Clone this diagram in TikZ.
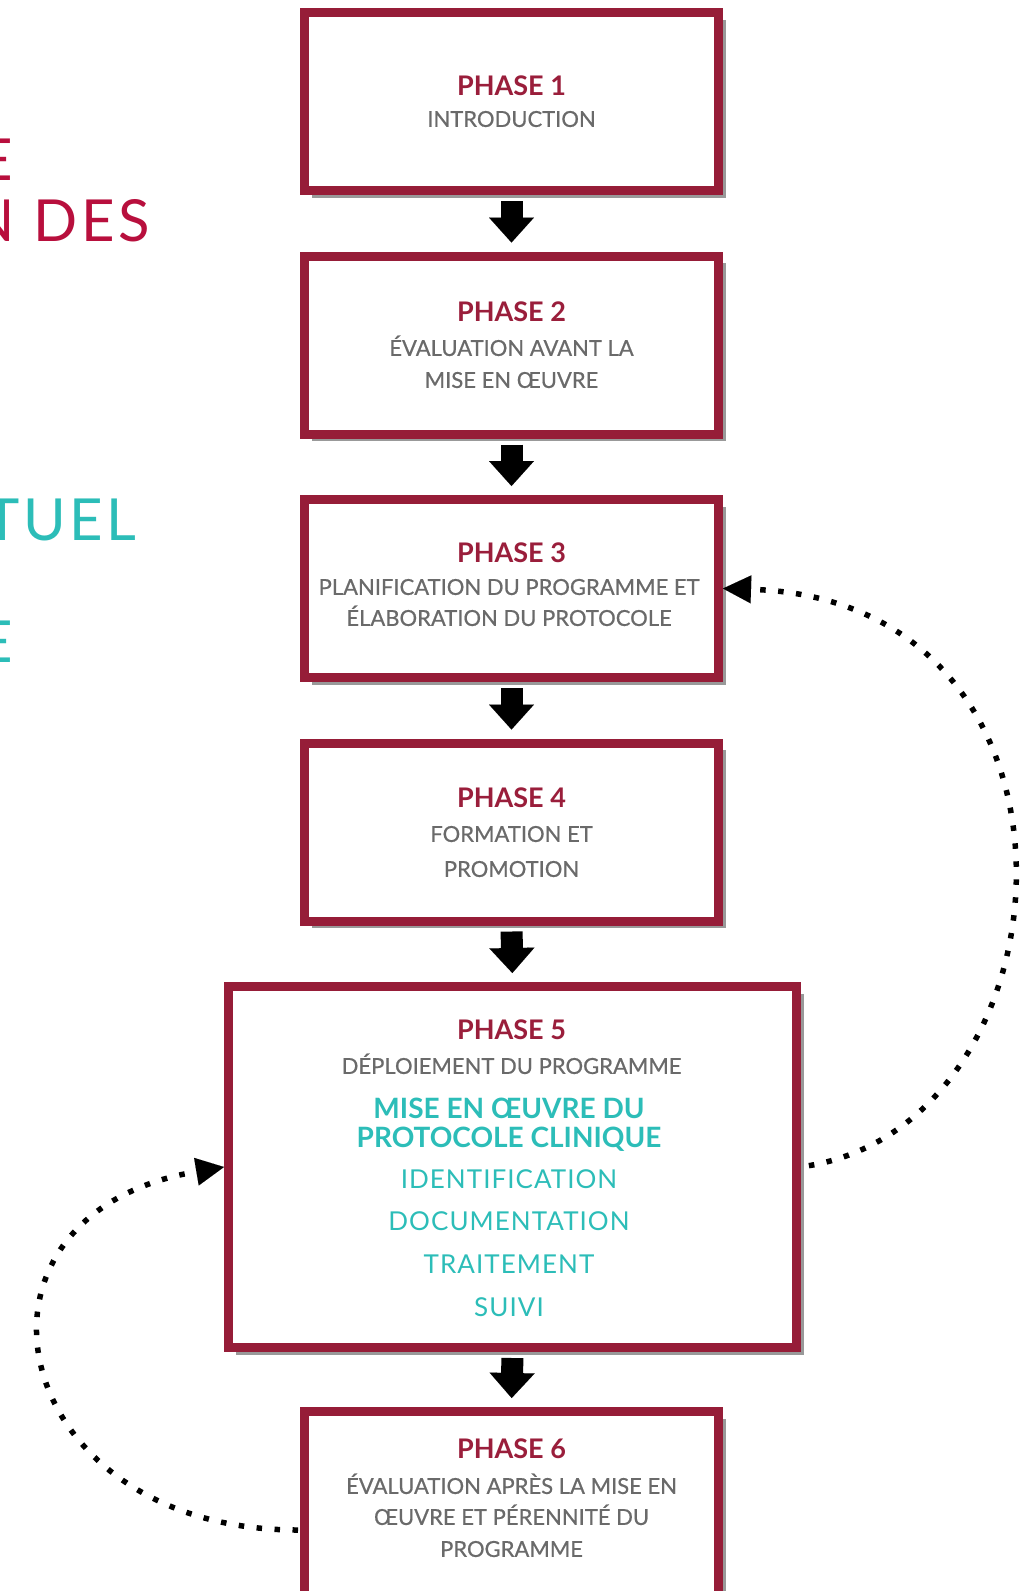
\documentclass[tikz,border=0pt]{standalone}
\usepackage{fontspec}
\setmainfont{Lato}
\newfontfamily\trackfont[LetterSpace=4]{Lato}
\newfontfamily\bigfont[LetterSpace=6]{Lato}
\newfontfamily\subfont[FakeBold=0.6]{Lato}
\usetikzlibrary{arrows.meta,shadows}
\definecolor{boxred}{HTML}{961D38}
\definecolor{phasered}{HTML}{9A1E3B}
\definecolor{leftred}{HTML}{B80F3D}
\definecolor{tealc}{HTML}{2CBDB8}
\definecolor{subgray}{HTML}{6A6A6A}
\begin{document}
\begin{tikzpicture}[x=0.5pt,y=-0.5pt,
  phasebox/.style={draw=boxred, line width=4.5pt, fill=white, inner sep=0pt,
    drop shadow={shadow xshift=3.5pt, shadow yshift=-3.5pt, opacity=0.4, fill=black}},
  ph/.style={font={\fontsize{13.5}{16}\selectfont\bfseries}, text=phasered, text height=9.67pt, text depth=0pt, inner sep=0pt},
  sub/.style={font={\fontsize{11}{13}\selectfont\subfont}, text=subgray, text height=7.9pt, text depth=0pt, inner sep=0pt},
  tb/.style={font={\fontsize{14}{16}\selectfont\bfseries}, text=tealc, text height=10pt, text depth=0pt, inner sep=0pt},
  tr/.style={font={\fontsize{13}{16}\selectfont\trackfont}, text=tealc, text height=9.3pt, text depth=0pt, inner sep=0pt},
  big/.style={font={\fontsize{29}{32}\selectfont\bigfont}, text height=20.8pt, text depth=0pt, inner sep=0pt, anchor=east},
  flowarrow/.style={line width=11pt, -{Triangle[length=12.5pt,width=22.5pt,line width=0.01pt]}, shorten <=3pt, shorten >=4.5pt},
  loopline/.style={line width=2.75pt, dash pattern=on 2.75pt off 6.25pt, -{Triangle[length=14pt,width=14pt,line width=0.01pt]}}
]
\useasboundingbox (0,0) rectangle (1026,1591);
\fill[white] (0,0) rectangle (1026,1591);

% left cut-off texts
\node[big, text=leftred] (l1) at (13,160) {E};
\node[big, text=leftred] (l2) at (150,221) {N DES};
\node[big, text=tealc] (l3) at (137,520) {TUEL};
\node[big, text=tealc] (l4) at (13,642) {E};

% boxes
\node[phasebox, minimum width=207pt, minimum height=89pt] (b1) at (511.5,101.5) {};
\node[phasebox, minimum width=207pt, minimum height=89pt] (b2) at (511.5,345) {};
\node[phasebox, minimum width=207pt, minimum height=89pt] (b3) at (511.5,588.5) {};
\node[phasebox, minimum width=207pt, minimum height=89pt] (b4) at (511.5,832) {};
\node[phasebox, minimum width=284pt, minimum height=180.5pt] (b5) at (512.5,1167) {};
\node[phasebox, minimum width=207pt, minimum height=95.5pt] (b6) at (511.5,1507) {};

% texts
\node[ph] (t1a) at (511.5,86) {PHASE 1};
\node[sub] (t1b) at (511.5,119) {INTRODUCTION};

\node[ph] (t2a) at (511.5,312) {PHASE 2};
\node[sub] (t2b) at (511.5,348) {ÉVALUATION AVANT LA};
\node[sub] (t2c) at (511.5,380) {MISE EN ŒUVRE};

\node[ph] (t3a) at (511.5,553) {PHASE 3};
\node[sub] (t3b) at (509,587) {PLANIFICATION DU PROGRAMME ET};
\node[sub] (t3c) at (509,618) {ÉLABORATION DU PROTOCOLE};

\node[ph] (t4a) at (511.5,798) {PHASE 4};
\node[sub] (t4b) at (511.5,834) {FORMATION ET};
\node[sub] (t4c) at (511.5,869) {PROMOTION};

\node[ph] (t5a) at (511.5,1030) {PHASE 5};
\node[sub] (t5b) at (511.5,1066) {DÉPLOIEMENT DU PROGRAMME};
\node[tb] (t5c) at (509,1108) {MISE EN ŒUVRE DU};
\node[tb] (t5d) at (509,1137) {PROTOCOLE CLINIQUE};
\node[tr] (t5e) at (509,1179) {IDENTIFICATION};
\node[tr] (t5f) at (509,1221) {DOCUMENTATION};
\node[tr] (t5g) at (509,1264) {TRAITEMENT};
\node[tr] (t5h) at (509,1307) {SUIVI};

\node[ph] (t6a) at (511.5,1449) {PHASE 6};
\node[sub] (t6b) at (511.5,1486) {ÉVALUATION APRÈS LA MISE EN};
\node[sub] (t6c) at (511.5,1517) {ŒUVRE ET PÉRENNITÉ DU};
\node[sub] (t6d) at (511.5,1549) {PROGRAMME};

% flow arrows
\draw[flowarrow] (b1.south) -- (b2.north);
\draw[flowarrow] (b2.south) -- (b3.north);
\draw[flowarrow] (b3.south) -- (b4.north);
\draw[flowarrow] (b4.south) -- (b5.north);
\draw[flowarrow] (b5.south) -- (b6.north);

% loops
\draw[loopline, shorten <=4pt] (b5.east) .. controls (1080,1120) and (1110,600) .. (b3.east);
\draw[loopline, shorten <=1pt] ([yshift=-11.5pt]b6.west) .. controls (5,1530) and (-60,1215) .. (b5.west);
\end{tikzpicture}
\end{document}
